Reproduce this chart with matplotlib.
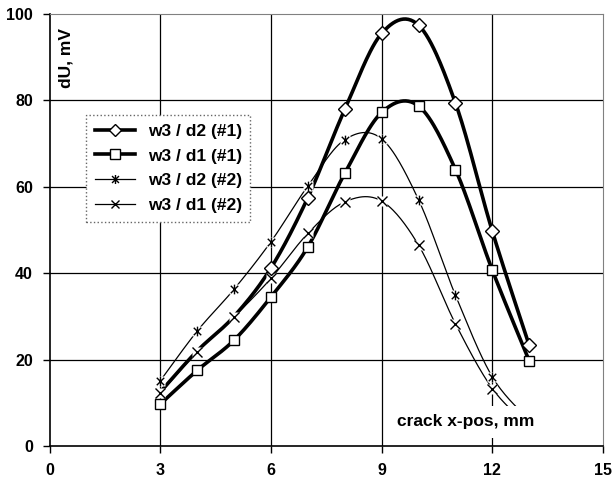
import numpy as np
import matplotlib
matplotlib.use("Agg")
import matplotlib.pyplot as plt
from matplotlib.path import Path
from matplotlib.lines import Line2D

plt.rcParams['font.family'] = ['Liberation Sans', 'DejaVu Sans']
plt.rcParams['font.weight'] = 'bold'

# crack position, mm
x_pos = [3, 4, 5, 6, 7, 8, 9, 10, 11, 12, 13]
# dU, mV
w3_d2_1 = [12.5, 22.0, 30.0, 41.2, 57.5, 77.9, 95.5, 97.4, 79.4, 49.7, 23.3]
w3_d1_1 = [9.7, 17.5, 24.5, 34.5, 46.1, 63.1, 77.2, 78.7, 64.0, 40.7, 19.7]
w3_d2_2 = [15.1, 26.6, 36.3, 47.3, 60.2, 70.9, 71.1, 57.0, 34.9, 16.0, 6.0]
w3_d1_2 = [12.2, 21.8, 29.9, 38.8, 49.2, 56.5, 56.7, 46.5, 28.3, 13.3, 4.5]
labels = ["w3 / d2 (#1)", "w3 / d1 (#1)", "w3 / d2 (#2)", "w3 / d1 (#2)"]

x_ticks = [0, 3, 6, 9, 12, 15]
y_ticks = [0, 20, 40, 60, 80, 100]


def smooth(x, y, n=30):
    # excel-like smoothed line (catmull-rom bezier)
    p = np.column_stack([x, y]).astype(float)
    p = np.vstack([p[0], p, p[-1]])
    out = []
    for i in range(1, len(p) - 2):
        p0, p1, p2, p3 = p[i - 1], p[i], p[i + 1], p[i + 2]
        c1 = p1 + (p2 - p0) / 6
        c2 = p2 - (p3 - p1) / 6
        t = np.linspace(0, 1, n)[:, None]
        seg = (1 - t) ** 3 * p1 + 3 * (1 - t) ** 2 * t * c1 + 3 * (1 - t) * t ** 2 * c2 + t ** 3 * p2
        out.append(seg)
    out = np.vstack(out)
    return out[:, 0], out[:, 1]


# asterisk marker: X plus vertical bar
star = Path([(-1, -1), (1, 1), (-1, 1), (1, -1), (0, -1.3), (0, 1.3)],
            [Path.MOVETO, Path.LINETO, Path.MOVETO, Path.LINETO, Path.MOVETO, Path.LINETO])

fig = plt.figure(figsize=(6.14, 4.82), dpi=100)
ax = fig.add_axes([0.0808, 0.0747, 0.9013, 0.8963])

ax.set_xlim(0, 15)
ax.set_ylim(0, 100)
ax.set_xticks(x_ticks)
ax.set_yticks(y_ticks)
ax.tick_params(direction='out', length=5, width=1, labelsize=11.5, pad=7)
for lab in ax.get_xticklabels() + ax.get_yticklabels():
    lab.set_fontweight('bold')

# grid
for v in [3, 6, 9, 12]:
    ax.axvline(v, color='black', lw=0.9, zorder=0)
for v in [20, 40, 60, 80]:
    ax.axhline(v, color='black', lw=0.9, zorder=0)
ax.spines['top'].set_color('#808080')
ax.spines['right'].set_color('#808080')
ax.spines['left'].set_linewidth(1.2)
ax.spines['bottom'].set_linewidth(1.2)

# series 1 and 2 : thick lines
sx, sy = smooth(x_pos, w3_d2_1)
ax.plot(sx, sy, color='black', lw=2.6, zorder=2, solid_capstyle='round')
ax.plot(x_pos[3:], w3_d2_1[3:], ls='none', marker='D', ms=7, mfc='white', mec='black', mew=1, zorder=3)

sx, sy = smooth(x_pos, w3_d1_1)
ax.plot(sx, sy, color='black', lw=2.6, zorder=2, solid_capstyle='round')
ax.plot(x_pos, w3_d1_1, ls='none', marker='s', ms=7.5, mfc='white', mec='black', mew=1, zorder=3)

# series 3 and 4 : thin lines, marker has white background
sx, sy = smooth(x_pos, w3_d2_2)
ax.plot(sx, sy, color='black', lw=0.9, zorder=2)
ax.plot(x_pos, w3_d2_2, ls='none', marker='s', ms=6.5, mfc='white', mec='none', zorder=2.5)
ax.plot(x_pos, w3_d2_2, ls='none', marker=star, ms=7, mfc='none', mec='black', mew=1, zorder=3)

sx, sy = smooth(x_pos, w3_d1_2)
ax.plot(sx, sy, color='black', lw=0.9, zorder=2)
ax.plot(x_pos, w3_d1_2, ls='none', marker='s', ms=6.5, mfc='white', mec='none', zorder=2.5)
ax.plot(x_pos, w3_d1_2, ls='none', marker='x', ms=6.5, mfc='none', mec='black', mew=1, zorder=3)

# labels inside the plot
fig.text(0.1075, 0.88, "dU, mV", rotation=90, ha='center', va='center', fontsize=12.5, fontweight='bold')
ax.text(465.5 / 614, 1 - 421.7 / 482, "crack x-pos, mm", transform=fig.transFigure,
        ha='center', va='center', fontsize=12.5, fontweight='bold', zorder=5,
        bbox=dict(facecolor='white', edgecolor='none', pad=6))

handles = [
    Line2D([], [], color='black', lw=2.6, marker='D', ms=6.5, mfc='white', mec='black', mew=1),
    Line2D([], [], color='black', lw=2.6, marker='s', ms=7, mfc='white', mec='black', mew=1),
    Line2D([], [], color='black', lw=0.9, marker=star, ms=6.5, mfc='none', mec='black', mew=1),
    Line2D([], [], color='black', lw=0.9, marker='x', ms=6, mfc='none', mec='black', mew=1),
]
leg = fig.legend(handles, labels, loc='upper left', bbox_to_anchor=(86 / 614, 1 - 115 / 482),
                 borderaxespad=0, prop={'weight': 'bold', 'size': 12.5},
                 handlelength=2.3, labelspacing=0.55, fancybox=False, framealpha=1,
                 borderpad=0.5, handletextpad=0.75)
leg.get_frame().set_edgecolor('#666666')
leg.get_frame().set_linestyle(':')
leg.get_frame().set_linewidth(1)
leg.set_zorder(5)

plt.savefig("out.png", dpi=100)
